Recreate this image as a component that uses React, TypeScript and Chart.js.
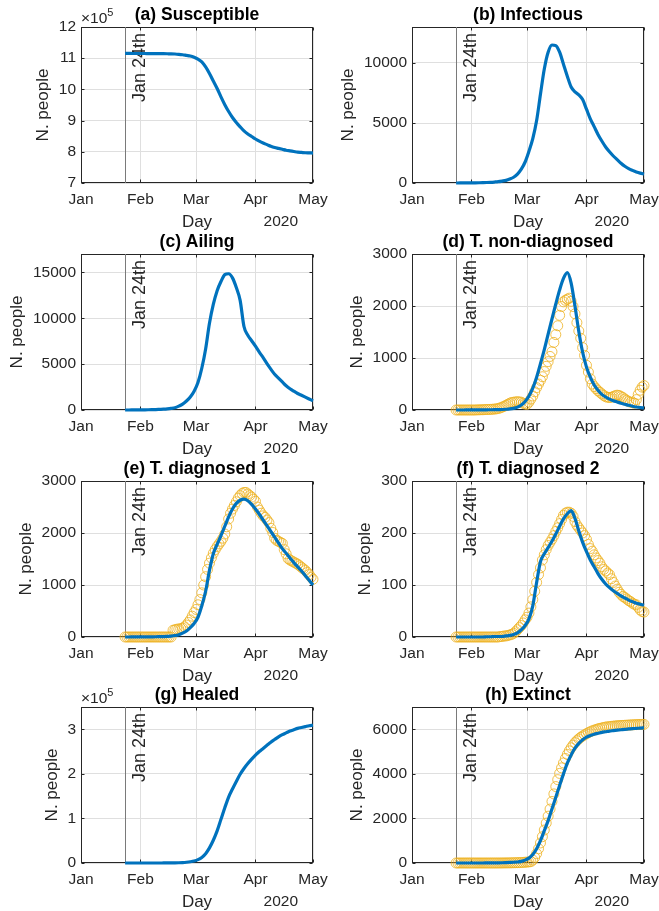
import React, { useEffect, useRef } from 'react';
import { Chart, registerables } from 'chart.js';

Chart.register(...registerables);

// ---- axis text ----
const MONTH_TICKS = [0, 31, 60, 91, 121]; // days since Jan 1, 2020
const MONTH_LABELS = ['Jan', 'Feb', 'Mar', 'Apr', 'May'];
const YEAR_LABEL = '2020';
const X_LABEL = 'Day';
const Y_LABEL = 'N. people';
const MARKER_DAY = 23; // Jan 24th
const MARKER_LABEL = 'Jan 24th';

// ---- model curves (sampled every 2 days, day 23 .. 121) ----
const MODEL_DAYS = [23, 25, 27, 29, 31, 33, 35, 37, 39, 41, 43, 45, 47, 49, 51, 53, 55, 57, 59, 61, 63, 65, 67, 69, 71, 73, 75, 77, 79, 81, 83, 85, 87, 89, 91, 93, 95, 97, 99, 101, 103, 105, 107, 109, 111, 113, 115, 117, 119, 121];

const SUSCEPTIBLE = [1115200, 1115200, 1115100, 1115100, 1115000, 1115000, 1114900, 1114800, 1114700, 1114600, 1114400, 1114200,
  1114000, 1113500, 1112500, 1111000, 1109000, 1107000, 1103000, 1097000, 1088000, 1072000,
  1051000, 1027000, 1003000, 976000, 951000, 929000, 910000, 894000, 880000, 867000,
  857000, 849000, 841000, 834000, 828000, 823000, 818000, 814000, 811000, 808000,
  805000, 803000, 801000, 799000, 798000, 797000, 796500, 796000];

const INFECTIOUS = [0, 3, 5, 8, 12, 16, 22, 30, 40, 55,
  80, 110, 160, 220, 330, 480, 740, 1150, 1750, 2650,
  3700, 5200, 7400, 9500, 10900, 11500, 11450, 10900, 9900, 8900,
  8000, 7600, 7350, 6950, 6150, 5350, 4700, 4050, 3500, 3000,
  2600, 2250, 1950, 1650, 1400, 1200, 1050, 920, 820, 740];

const AILING = [0, 2, 5, 8, 12, 18, 25, 35, 50, 70,
  90, 120, 170, 250, 420, 640, 980, 1420, 2050, 3000,
  4550, 6650, 9450, 11500, 13000, 14000, 14750, 14850, 14400, 13350,
  11950, 9100, 8150, 7550, 6950, 6300, 5700, 5050, 4450, 3900,
  3480, 3060, 2650, 2320, 2050, 1800, 1600, 1400, 1200, 1000];

const NONDIAG_MODEL = [0, 0, 0, 1, 1, 2, 2, 3, 4, 5,
  6, 8, 10, 14, 20, 32, 55, 95, 165, 270,
  420, 630, 890, 1160, 1460, 1750, 2040, 2310, 2530, 2640,
  2440, 2000, 1510, 1110, 825, 630, 480, 380, 300, 250,
  210, 180, 155, 130, 110, 90, 72, 58, 48, 40];

const DIAG1_MODEL = [0, 0, 1, 1, 2, 2, 3, 4, 5, 7,
  9, 12, 17, 28, 45, 75, 115, 180, 260, 380,
  600, 880, 1280, 1600, 1780, 1950, 2130, 2310, 2460, 2570,
  2630, 2650, 2620, 2550, 2460, 2360, 2250, 2140, 2030, 1920,
  1810, 1700, 1610, 1520, 1430, 1350, 1270, 1180, 1090, 1000];

const DIAG2_MODEL = [0, 0, 0, 0, 0, 0, 0, 0, 0.5, 0.5,
  1, 1, 1, 2, 3, 5, 8, 14, 22, 35,
  60, 105, 145, 160, 172, 184, 198, 213, 227, 237,
  243, 228, 204, 182, 164, 148, 135, 122, 111, 102,
  95, 89, 84, 79, 75, 71, 68, 65, 63, 61];

const HEALED = [0, 0, 0, 0, 0, 0, 5, 10, 20, 35,
  60, 100, 200, 350, 600, 1000, 1700, 2800, 4500, 7500,
  12500, 21000, 34000, 51000, 72000, 98000, 124000, 148000, 166000, 183000,
  199000, 212000, 223000, 233000, 242000, 250000, 257000, 264000, 271000, 277000,
  283000, 288000, 292000, 296000, 299000, 302000, 304000, 306000, 308000, 309000];

const EXTINCT_MODEL = [0, 0, 0, 0, 0, 0, 0, 1, 2, 3,
  5, 8, 12, 18, 25, 33, 45, 75, 130, 220,
  380, 640, 1000, 1450, 1900, 2420, 2950, 3480, 4000, 4480,
  4850, 5150, 5370, 5530, 5650, 5720, 5780, 5820, 5860, 5890,
  5920, 5940, 5960, 5980, 6000, 6015, 6030, 6040, 6055, 6065];

// ---- observed data (daily, from day 23 = Jan 24th) ----
const OBS_FIRST_DAY = 23;

const NONDIAG_OBS = [0, 0, 0, 0, 0, 0, 0, 0, 0, 0,
  0, 3, 3, 5, 5, 8, 10, 10, 12, 15,
  18, 22, 30, 40, 55, 70, 90, 110, 130, 145,
  150, 155, 160, 155, 150, 130, 115, 110, 150, 210,
  270, 350, 430, 500, 570, 640, 740, 840, 930, 1030,
  1120, 1300, 1450, 1620, 1820, 1990, 2080, 2110, 2130, 2150,
  2090, 1990, 1850, 1680, 1520, 1380, 1200, 1050, 860, 730,
  600, 500, 450, 410, 370, 340, 310, 280, 255, 245,
  240, 245, 260, 275, 285, 280, 260, 240, 210, 185,
  165, 150, 140, 130, 200, 300, 380, 440, 470];

const DIAG1_OBS = [0, 0, 0, 0, 0, 0, 0, 0, 0, 0,
  0, 0, 0, 0, 0, 0, 0, 0, 0, 0,
  0, 0, 0, 0, 0, 130, 140, 150, 155, 160,
  170, 195, 230, 280, 330, 400, 470, 530, 620, 720,
  850, 1000, 1160, 1300, 1420, 1520, 1610, 1680, 1740, 1790,
  1840, 1900, 1980, 2120, 2270, 2380, 2460, 2530, 2600, 2670,
  2720, 2760, 2780, 2780, 2750, 2720, 2690, 2650, 2610, 2500,
  2440, 2380, 2330, 2300, 2250, 2200, 2090, 2010, 1900, 1860,
  1840, 1820, 1800, 1680, 1600, 1510, 1480, 1460, 1440, 1420,
  1400, 1370, 1340, 1310, 1280, 1240, 1200, 1150, 1110];

const DIAG2_OBS = [0, 0, 0, 0, 0, 0, 0, 0, 0, 0,
  0, 0, 0, 0, 0, 0, 0, 0, 0, 0,
  0, 0, 0, 1, 1, 2, 2, 3, 4, 5,
  7, 10, 14, 18, 22, 27, 33, 38, 46, 58,
  72, 88, 105, 120, 133, 148, 158, 168, 176, 182,
  188, 195, 203, 210, 218, 226, 234, 238, 240, 240,
  238, 232, 222, 215, 210, 205, 200, 195, 188, 178,
  170, 165, 158, 152, 147, 142, 135, 130, 127, 123,
  120, 112, 105, 98, 92, 86, 82, 78, 76, 73,
  70, 68, 65, 63, 62, 57, 52, 49, 48];

const EXTINCT_OBS = [0, 0, 0, 0, 0, 0, 0, 0, 0, 0,
  0, 0, 0, 0, 0, 0, 0, 0, 0, 0,
  0, 0, 1, 1, 2, 3, 4, 5, 6, 8,
  10, 12, 15, 18, 22, 28, 35, 40, 50, 60,
  130, 250, 420, 640, 900, 1180, 1480, 1790, 2100, 2420,
  2760, 3100, 3430, 3740, 4020, 4270, 4490, 4690, 4870, 5030,
  5170, 5290, 5400, 5490, 5570, 5640, 5700, 5750, 5800, 5850,
  5890, 5930, 5960, 5990, 6020, 6040, 6060, 6080, 6100, 6110,
  6120, 6130, 6140, 6150, 6160, 6165, 6170, 6175, 6180, 6185,
  6190, 6195, 6200, 6205, 6210, 6212, 6215, 6218, 6220];

// ---- y axis ticks / limits ----
const TICKS_A = [700000, 800000, 900000, 1000000, 1100000, 1200000];
const TICKS_B = [0, 5000, 10000];
const TICKS_C = [0, 5000, 10000, 15000];
const TICKS_D = [0, 1000, 2000, 3000];
const TICKS_E = [0, 1000, 2000, 3000];
const TICKS_F = [0, 100, 200, 300];
const TICKS_G = [0, 100000, 200000, 300000];
const TICKS_H = [0, 2000, 4000, 6000];

const TITLES = ['(a) Susceptible', '(b) Infectious', '(c) Ailing', '(d) T. non-diagnosed',
  '(e) T. diagnosed 1', '(f) T. diagnosed 2', '(g) Healed', '(h) Extinct'];

type Panel = {
  title: string;
  model: number[];
  obs?: number[];
  yMin: number;
  yMax: number;
  yTicks: number[];
  exp?: number;
};

const PANELS: Panel[] = [
  { title: TITLES[0], model: SUSCEPTIBLE, yMin: 700000, yMax: 1200000, yTicks: TICKS_A, exp: 5 },
  { title: TITLES[1], model: INFECTIOUS, yMin: 0, yMax: 13000, yTicks: TICKS_B },
  { title: TITLES[2], model: AILING, yMin: 0, yMax: 17000, yTicks: TICKS_C },
  { title: TITLES[3], model: NONDIAG_MODEL, obs: NONDIAG_OBS, yMin: 0, yMax: 3000, yTicks: TICKS_D },
  { title: TITLES[4], model: DIAG1_MODEL, obs: DIAG1_OBS, yMin: 0, yMax: 3000, yTicks: TICKS_E },
  { title: TITLES[5], model: DIAG2_MODEL, obs: DIAG2_OBS, yMin: 0, yMax: 300, yTicks: TICKS_F },
  { title: TITLES[6], model: HEALED, yMin: 0, yMax: 350000, yTicks: TICKS_G, exp: 5 },
  { title: TITLES[7], model: EXTINCT_MODEL, obs: EXTINCT_OBS, yMin: 0, yMax: 7000, yTicks: TICKS_H },
];

// ---- styling / layout ----
const FONT = '"Liberation Sans", Arial, Helvetica, sans-serif';
const TICK_SIZE = 15.5;
const LABEL_SIZE = 17;
const MARKER_TEXT_SIZE = 18;
const TITLE_SIZE = 17.5;
const AXIS_COLOR = '#262626';
const GRID_COLOR = '#dfdfdf';
const LINE_COLOR = '#0072BD';
const MARKER_COLOR = 'rgba(237,177,32,0.8)';
const VLINE_COLOR = '#7a7a7a';

const ROW_TOPS = [27, 254, 481, 707];
const COL_LEFTS = [0, 330];
const PLOT_LEFT = [81, 82];
const PLOT_W = 232;
const PLOT_H = 156;
const CANVAS_W = 329;
const CANVAS_H = 231;

function decorPlugin(p: Panel) {
  return {
    id: 'matlabDecor',
    beforeDatasetsDraw(chart: any) {
      const { ctx, chartArea: a, scales } = chart;
      const xs = scales.x;
      const ys = scales.y;
      ctx.save();
      // box
      ctx.strokeStyle = AXIS_COLOR;
      ctx.lineWidth = 1;
      const L = Math.round(a.left) + 0.5, R = Math.round(a.right) - 0.5;
      const T = Math.round(a.top) + 0.5, B = Math.round(a.bottom) - 0.5;
      ctx.strokeRect(L, T, R - L, B - T);
      // inward ticks
      ctx.beginPath();
      MONTH_TICKS.forEach((v) => {
        const px = Math.round(xs.getPixelForValue(v)) + 0.5;
        ctx.moveTo(px, B); ctx.lineTo(px, B - 3);
        ctx.moveTo(px, T); ctx.lineTo(px, T + 3);
      });
      p.yTicks.forEach((v) => {
        const py = Math.round(ys.getPixelForValue(v)) + 0.5;
        ctx.moveTo(L, py); ctx.lineTo(L + 3, py);
        ctx.moveTo(R, py); ctx.lineTo(R - 3, py);
      });
      ctx.stroke();
      // Jan 24th marker line
      const lx = Math.round(xs.getPixelForValue(MARKER_DAY)) + 0.5;
      ctx.strokeStyle = VLINE_COLOR;
      ctx.beginPath();
      ctx.moveTo(lx, a.top);
      ctx.lineTo(lx, a.bottom);
      ctx.stroke();
      ctx.translate(lx + 14.5, a.top + 6);
      ctx.rotate(-Math.PI / 2);
      ctx.font = `${MARKER_TEXT_SIZE}px ${FONT}`;
      ctx.fillStyle = AXIS_COLOR;
      ctx.textAlign = 'right';
      ctx.textBaseline = 'middle';
      ctx.fillText(MARKER_LABEL, 0, 0);
      ctx.restore();
    },
    afterDraw(chart: any) {
      const { ctx, chartArea: a, scales } = chart;
      const ys = scales.y;
      const cx = (a.left + a.right) / 2;
      ctx.save();
      // title
      ctx.fillStyle = '#000000';
      ctx.font = `bold ${TITLE_SIZE}px ${FONT}`;
      ctx.textAlign = 'center';
      ctx.textBaseline = 'middle';
      ctx.fillText(p.title, cx, a.top - 12);
      // x label and year
      ctx.fillStyle = AXIS_COLOR;
      ctx.font = `${LABEL_SIZE}px ${FONT}`;
      ctx.fillText(X_LABEL, cx, a.bottom + 39);
      ctx.font = `${TICK_SIZE}px ${FONT}`;
      ctx.textAlign = 'right';
      ctx.fillText(YEAR_LABEL, a.right - 15, a.bottom + 39);
      // y label
      ctx.font = `${TICK_SIZE}px ${FONT}`;
      let maxW = 0;
      (ys.ticks || []).forEach((t: any) => {
        const w = ctx.measureText(String(t.label)).width;
        if (w > maxW) maxW = w;
      });
      const labelX = a.left - 5 - maxW - 15.5;
      ctx.save();
      ctx.translate(labelX, (a.top + a.bottom) / 2);
      ctx.rotate(-Math.PI / 2);
      ctx.font = `${LABEL_SIZE}px ${FONT}`;
      ctx.textAlign = 'center';
      ctx.textBaseline = 'middle';
      ctx.fillText(Y_LABEL, 0, 0);
      ctx.restore();
      // exponent
      if (p.exp) {
        ctx.textAlign = 'left';
        ctx.textBaseline = 'alphabetic';
        ctx.font = `${TICK_SIZE}px ${FONT}`;
        const base = '\u00d710';
        ctx.fillText(base, a.left, a.top - 4);
        const w = ctx.measureText(base).width;
        ctx.font = `11px ${FONT}`;
        ctx.fillText(String(p.exp), a.left + w, a.top - 11);
      }
      ctx.restore();
    },
  };
}

function PanelChart({ p, idx }: { p: Panel; idx: number }) {
  const ref = useRef<HTMLCanvasElement | null>(null);
  const col = idx % 2;
  const row = Math.floor(idx / 2);
  const plotLeft = PLOT_LEFT[col];
  const top = ROW_TOPS[row] - 27;

  useEffect(() => {
    if (!ref.current) return;
    const div = p.exp ? Math.pow(10, p.exp) : 1;
    const modelPts = MODEL_DAYS.map((d, i) => ({ x: d, y: p.model[i] }));
    const datasets: any[] = [
      {
        type: 'line',
        data: modelPts,
        borderColor: LINE_COLOR,
        borderWidth: 3.2,
        pointRadius: 0,
        fill: false,
        tension: 0.4,
        cubicInterpolationMode: 'monotone',
        borderJoinStyle: 'round',
        order: 0,
        clip: false,
      },
    ];
    if (p.obs) {
      datasets.push({
        type: 'scatter',
        data: p.obs.map((v, i) => ({ x: OBS_FIRST_DAY + i, y: v })),
        pointRadius: 5,
        pointStyle: 'circle',
        pointBorderColor: MARKER_COLOR,
        pointBackgroundColor: 'rgba(0,0,0,0)',
        pointBorderWidth: 1,
        showLine: false,
        order: 1,
        clip: false,
      });
    }
    const tickFont = { family: FONT, size: TICK_SIZE };
    const bottomSpace = CANVAS_H - 27 - PLOT_H;
    const chart = new Chart(ref.current, {
      type: 'line',
      data: { datasets },
      plugins: [decorPlugin(p)],
      options: {
        responsive: false,
        animation: false,
        events: [],
        layout: {
          padding: {
            left: 0,
            top: 27,
            right: CANVAS_W - plotLeft - PLOT_W,
            bottom: 0,
          },
        },
        plugins: {
          legend: { display: false },
          tooltip: { enabled: false },
          title: { display: false },
        },
        scales: {
          x: {
            type: 'linear',
            min: MONTH_TICKS[0],
            max: MONTH_TICKS[MONTH_TICKS.length - 1],
            afterBuildTicks: (s: any) => {
              s.ticks = MONTH_TICKS.map((v) => ({ value: v }));
            },
            afterFit: (s: any) => {
              s.height = bottomSpace;
              s.paddingLeft = 0;
              s.paddingRight = 0;
            },
            ticks: {
              autoSkip: false,
              maxRotation: 0,
              minRotation: 0,
              padding: 7,
              color: AXIS_COLOR,
              font: tickFont,
              callback: (v: any) => {
                const k = MONTH_TICKS.indexOf(Number(v));
                return k >= 0 ? MONTH_LABELS[k] : '';
              },
            },
            grid: { color: GRID_COLOR, lineWidth: 1, drawTicks: false },
            border: { display: false },
          },
          y: {
            type: 'linear',
            min: p.yMin,
            max: p.yMax,
            afterBuildTicks: (s: any) => {
              s.ticks = p.yTicks.map((v) => ({ value: v }));
            },
            afterFit: (s: any) => {
              s.width = plotLeft;
              s.paddingTop = 0;
              s.paddingBottom = 0;
            },
            ticks: {
              autoSkip: false,
              padding: 5,
              color: AXIS_COLOR,
              font: tickFont,
              callback: (v: any) => String(Math.round(Number(v) / div)),
            },
            grid: { color: GRID_COLOR, lineWidth: 1, drawTicks: false },
            border: { display: false },
          },
        },
      } as any,
    });
    return () => chart.destroy();
  }, [p, plotLeft]);

  return (
    <canvas
      ref={ref}
      width={CANVAS_W}
      height={CANVAS_H}
      style={{
        position: 'absolute',
        left: COL_LEFTS[col],
        top,
        width: CANVAS_W,
        height: CANVAS_H,
      }}
    />
  );
}

export default function App() {
  useEffect(() => {
    document.body.style.margin = '0';
  }, []);
  return (
    <div
      style={{
        position: 'absolute',
        left: 0,
        top: 0,
        width: 659,
        height: 911,
        overflow: 'hidden',
        background: '#ffffff',
      }}
    >
      {PANELS.map((p, i) => (
        <PanelChart key={i} p={p} idx={i} />
      ))}
    </div>
  );
}
